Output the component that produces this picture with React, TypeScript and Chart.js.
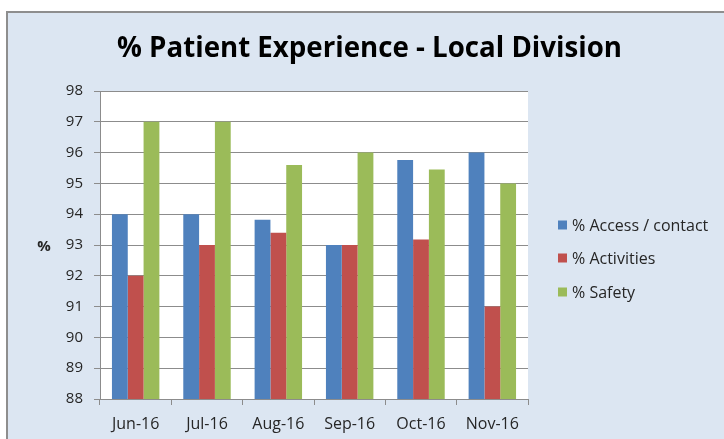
import React, { useEffect, useRef } from "react";
import { Chart, registerables } from "chart.js";

Chart.register(...registerables);

const chartTitle = "% Patient Experience - Local Division";
const yAxisLabel = "%";
const categories = ["Jun-16", "Jul-16", "Aug-16", "Sep-16", "Oct-16", "Nov-16"];
const seriesNames = ["% Access / contact", "% Activities", "% Safety"];
const accessValues = [94, 94, 93.82, 93, 95.76, 96];
const activitiesValues = [92, 93, 93.4, 93, 93.18, 91];
const safetyValues = [97, 97, 95.6, 96, 95.45, 95];
const yMin = 88;
const yMax = 98;
const yStep = 1;

const colors = ["#4f81bd", "#c0504d", "#9bbb59"];
const textColor = "#262626";
const gridColor = "#8c8c8c";
const FONT = "'Open Sans', sans-serif";

const decorPlugin = {
  id: "decor",
  beforeDraw(chart: any) {
    const { ctx, chartArea } = chart;
    ctx.save();
    ctx.fillStyle = "#ffffff";
    ctx.fillRect(0, 0, chart.width, chart.height);
    ctx.fillStyle = "#dce6f2";
    ctx.fillRect(7, 12, chart.width, chart.height);
    ctx.strokeStyle = "#8e8e8e";
    ctx.lineWidth = 2;
    ctx.beginPath();
    ctx.moveTo(7, chart.height + 2);
    ctx.lineTo(7, 12);
    ctx.lineTo(chart.width + 2, 12);
    ctx.stroke();
    ctx.fillStyle = "#ffffff";
    ctx.fillRect(chartArea.left, chartArea.top, chartArea.right - chartArea.left, chartArea.bottom - chartArea.top);
    ctx.restore();
  },
  afterDraw(chart: any) {
    const { ctx } = chart;
    ctx.save();
    // title
    ctx.font = `bold 28px ${FONT}`;
    ctx.fillStyle = "#000000";
    ctx.textBaseline = "alphabetic";
    ctx.textAlign = "left";
    const w = ctx.measureText(chartTitle).width;
    const targetW = 505;
    const sx = targetW / w;
    ctx.translate(369.5 - targetW / 2, 57);
    ctx.scale(sx, 1);
    ctx.fillText(chartTitle, 0, 0);
    ctx.restore();

    ctx.save();
    ctx.font = `bold 15px ${FONT}`;
    ctx.fillStyle = textColor;
    ctx.textAlign = "center";
    ctx.textBaseline = "middle";
    ctx.fillText(yAxisLabel, 44, 247);

    // legend
    const rows = [225, 258, 292];
    ctx.font = `16px ${FONT}`;
    ctx.textAlign = "left";
    seriesNames.forEach((name, i) => {
      ctx.fillStyle = colors[i];
      ctx.fillRect(558, rows[i] - 4.5, 9, 9);
      ctx.fillStyle = textColor;
      ctx.fillText(name, 572, rows[i] + 1);
    });
    ctx.restore();
  },
};

export default function App() {
  const ref = useRef<HTMLCanvasElement | null>(null);
  useEffect(() => {
    if (!ref.current) return;
    const chart = new Chart(ref.current, {
      type: "bar",
      data: {
        labels: categories,
        datasets: [
          { label: seriesNames[0], data: accessValues, backgroundColor: colors[0] },
          { label: seriesNames[1], data: activitiesValues, backgroundColor: colors[1] },
          { label: seriesNames[2], data: safetyValues, backgroundColor: colors[2] },
        ],
      },
      options: {
        animation: false,
        responsive: false,
        devicePixelRatio: 1,
        layout: { padding: { top: 91, right: 196, bottom: 0, left: 0 } },
        datasets: { bar: { categoryPercentage: 0.665, barPercentage: 1 } },
        plugins: {
          legend: { display: false },
          title: { display: false },
          tooltip: { enabled: false },
        },
        scales: {
          x: {
            offset: true,
            grid: { display: true, drawOnChartArea: false, drawTicks: true, tickLength: 6, color: gridColor, offset: true },
            border: { display: true, color: gridColor, width: 1 },
            ticks: { font: { family: FONT, size: 16 }, color: textColor, padding: 10, maxRotation: 0 },
            afterFit: (s: any) => { s.height = 40; },
          },
          y: {
            min: yMin,
            max: yMax,
            ticks: { stepSize: yStep, font: { family: FONT, size: 15 }, color: textColor, padding: 11 },
            grid: { color: gridColor, lineWidth: 1, tickLength: 6, drawTicks: true },
            border: { display: true, color: gridColor, width: 1 },
            afterFit: (s: any) => { s.width = 100; },
          },
        },
      },
      plugins: [decorPlugin],
    });
    return () => chart.destroy();
  }, []);
  return (
    <div style={{ position: "fixed", left: 0, top: 0, width: 724, height: 439 }}>
      <canvas ref={ref} width={724} height={439} style={{ display: "block" }} />
    </div>
  );
}
